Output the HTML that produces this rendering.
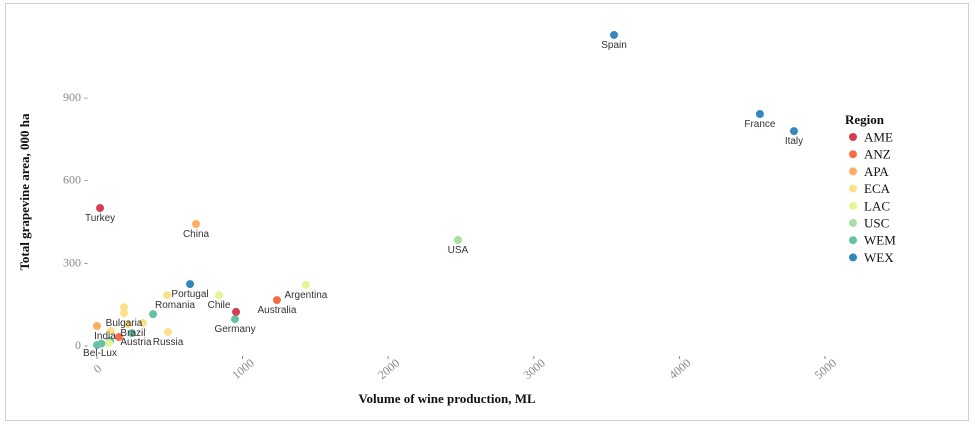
<!DOCTYPE html>
<html><head><meta charset="utf-8"><style>
html,body{margin:0;padding:0;background:#fff;}
svg{display:block;}
</style></head><body>
<svg id="chart" width="975" height="427">
<rect x="5.5" y="3.5" width="963" height="417" fill="#fff" stroke="#d0d0d0"/>
<g id="yticks"></g><g id="xticks"></g><g id="points"></g><g id="labels"></g>
<text x="447" y="403" text-anchor="middle" font-family="Liberation Serif, serif" font-weight="bold" font-size="13" fill="#111">Volume of wine production, ML</text>
<text transform="translate(29,192) rotate(-90)" text-anchor="middle" font-family="Liberation Serif, serif" font-weight="bold" font-size="13" fill="#111">Total grapevine area, 000 ha</text>
<g id="legend">
<text x="845" y="124" font-family="Liberation Serif, serif" font-weight="bold" font-size="13" fill="#111">Region</text>
</g>
</svg>
<script>
const regions=["AME","ANZ","APA","ECA","LAC","USC","WEM","WEX"];
const regionColors=["#d53e4f","#f46d43","#fdae61","#fee08b","#e6f598","#abdda4","#66c2a5","#3288bd"];
const xTicks=[0,1000,2000,3000,4000,5000];
const yTicks=[0,300,600,900];
const names=["Spain","France","Italy","USA","Turkey","China","Portugal","Argentina","Chile","Australia","Germany","South Africa","Romania","","","","Bulgaria","","Brazil","","New Zealand","Russia","Austria","","","Bel-Lux","India"];
const production=[3551,4553,4787,2479,21,680,639,1435,838,1236,948,955,481,385,185,185,316,213,240,96,151,488,89,82,30,0,0];
const area=[1125,838,776,381,497,439,221,218,181,163,94,120,181,112,137,116,80,76,43,51,29,47,15,7,5,0,69];
const regionOf=["WEX","WEX","WEX","USC","AME","APA","WEX","LAC","LAC","ANZ","WEM","AME","ECA","WEM","ECA","ECA","ECA","ECA","WEM","ECA","ANZ","ECA","WEM","LAC","WEM","WEM","APA"];
const showLabel=[1,1,1,1,1,1,1,1,1,1,1,0,1,0,0,0,1,0,1,0,0,1,1,0,0,1,1];
const labelOffsets={"Romania":[8,13],"Portugal":[0,13],"Chile":[0,13],"Argentina":[0,13],"Australia":[0,13],"Germany":[0,13],"Bulgaria":[-19,3],"Brazil":[1,3],"Russia":[0,13],"Austria":[26,4],"Bel-Lux":[3,11],"India":[8,13]};
const ns="http://www.w3.org/2000/svg";
const x=v=>97+v*0.1456;
const y=v=>345-v*0.2756;
const col=r=>regionColors[regions.indexOf(r)];
const yg=document.getElementById('yticks');
yTicks.forEach(t=>{
 const tx=document.createElementNS(ns,'text');
 tx.setAttribute('x',88);tx.setAttribute('y',y(t)+4);tx.setAttribute('text-anchor','end');
 tx.setAttribute('font-family','Liberation Serif, serif');tx.setAttribute('font-size','12');tx.setAttribute('fill','#888');
 tx.textContent=t+' -';
 
 
 yg.appendChild(tx);
});
const xg=document.getElementById('xticks');
xTicks.forEach(t=>{
 const tx=document.createElementNS(ns,'text');
 const px=x(t);
 tx.setAttribute('transform','translate('+(px+3)+',372) rotate(-40)');tx.setAttribute('text-anchor','middle');
 tx.setAttribute('font-family','Liberation Serif, serif');tx.setAttribute('font-size','12');tx.setAttribute('fill','#888');
 tx.textContent=t;
 
 
 xg.appendChild(tx);
 const tk=document.createElementNS(ns,'line');
 tk.setAttribute('x1',px);tk.setAttribute('x2',px);tk.setAttribute('y1',356);tk.setAttribute('y2',359);tk.setAttribute('stroke','#888');
 
 
 xg.appendChild(tk);
});
const pg=document.getElementById('points'),lg=document.getElementById('labels');
production.forEach((p,i)=>{
 const c=document.createElementNS(ns,'circle');
 c.setAttribute('cx',x(p));c.setAttribute('cy',y(area[i]));c.setAttribute('r',4);c.setAttribute('fill',col(regionOf[i]));
 
 
 pg.appendChild(c);
 if(showLabel[i]){
  const o=labelOffsets[names[i]]||[0,13];
  const t=document.createElementNS(ns,'text');
  t.setAttribute('x',x(p)+o[0]);t.setAttribute('y',y(area[i])+o[1]);t.setAttribute('text-anchor','middle');
  t.setAttribute('font-family','Liberation Sans, sans-serif');t.setAttribute('font-size','10');t.setAttribute('fill','#333');
  t.textContent=names[i];
  
  
  lg.appendChild(t);
 }
});
const leg=document.getElementById('legend');
regions.forEach((r,i)=>{
 const cy=137+i*17.2;
 const c=document.createElementNS(ns,'circle');
 c.setAttribute('cx',853);c.setAttribute('cy',cy);c.setAttribute('r',4);c.setAttribute('fill',regionColors[i]);
 
 
 leg.appendChild(c);
 const t=document.createElementNS(ns,'text');
 t.setAttribute('x',864);t.setAttribute('y',cy+4.5);t.setAttribute('font-family','Liberation Serif, serif');t.setAttribute('font-size','13');t.setAttribute('fill','#111');
 t.textContent=r;
 
 
 leg.appendChild(t);
});
</script>
</body></html>
